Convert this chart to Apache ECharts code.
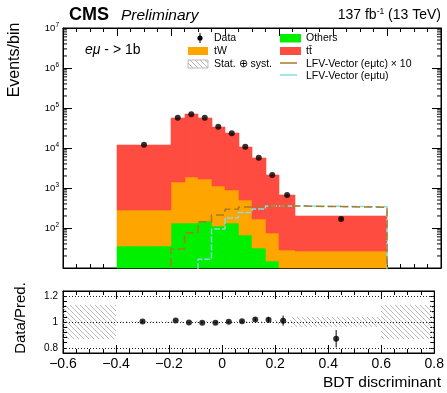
<!DOCTYPE html>
<html>
<head>
<meta charset="utf-8">
<script src="https://cdn.jsdelivr.net/npm/echarts@6.0.0/dist/echarts.min.js"></script>
<style>
  html, body { margin: 0; padding: 0; background: #fff; }
  #chart { width: 447px; height: 393px; }
</style>
</head>
<body>
<div id="chart"></div>
<script>
// histogram binning (BDT discriminant)
const binEdges = [-0.4, -0.2, -0.15, -0.1, -0.05, 0, 0.05, 0.1, 0.15, 0.2, 0.26, 0.6];
// per-bin yields, stacked bottom -> top
const others = [34, 131, 135, 152, 114, 135, 67, 31, 14, 5, 3];
const tW = [250, 1260, 1700, 1530, 980, 730, 430, 137, 61, 23, 22];
const ttbar = [11760, 55200, 67800, 55800, 33200, 22400, 10240, 5440, 2000, 633, 168];
const data = [12100, 57200, 69300, 57200, 34100, 23300, 10800, 5720, 2110, 668, 168];
// signals
const sigEmutc = [0.4, 3.0, 7.6, 14.4, 21.1, 29.3, 33.4, 35.5, 35.5, 35.5, 33.0];
const sigEmutcScale = 10;
const sigEmutu = [1, 2, 5, 16.5, 94, 178, 244, 297, 355, 355, 340];
// relative stat+syst band drawn in the ratio panel
const bandEdges = [-0.6, -0.4, -0.2, -0.15, -0.1, -0.05, 0, 0.05, 0.1, 0.15, 0.2, 0.26, 0.6, 0.8];
const bandHalf = [0.135, 0.004, 0.004, 0.004, 0.004, 0.005, 0.005, 0.006, 0.008, 0.01, 0.015, 0.04, 0.135];
// ratio panel reference lines / labels
const ratioLines = [0.8, 1, 1.2];

const FONT = 'Liberation Sans, Arial, sans-serif';
const colors = {
  others: '#00f000',
  tW: '#ffa500',
  ttbar: '#ff4c40',
  emutc: '#a97a26',
  emutu: '#86dcdc',
};

const centers = binEdges.slice(0, -1).map((e, i) => (e + binEdges[i + 1]) / 2);
const pred = others.map((v, i) => v + tW[i] + ttbar[i]);
const ratio = data.map((d, i) => d / pred[i]);
const ratioErr = data.map((d, i) => Math.sqrt(d) / pred[i]);

// hatch pattern like ROOT's 3354 fill style
const hatchCanvas = (() => {
  const c = document.createElement('canvas');
  c.width = 5; c.height = 5;
  const g = c.getContext('2d');
  g.strokeStyle = '#a8a8a8';
  g.lineWidth = 0.8;
  g.beginPath();
  g.moveTo(0, 0); g.lineTo(5, 5);
  g.moveTo(-1, 4); g.lineTo(1, 6);
  g.moveTo(4, -1); g.lineTo(6, 1);
  g.stroke();
  return c;
})();
const hatchFill = { image: hatchCanvas, repeat: 'repeat' };

// stacked histogram rectangles [lo, hi, bottom, top]
const stackRects = (layers) => {
  const out = layers.map(() => []);
  binEdges.slice(0, -1).forEach((lo, i) => {
    let base = 1;
    layers.forEach((layer, k) => {
      out[k].push([lo, binEdges[i + 1], base, base + layer[i]]);
      base += layer[i];
    });
  });
  return out;
};
const [othersRects, tWRects, ttbarRects] = stackRects([others, tW, ttbar]);

const rectRenderer = (fill, solid) => (params, api) => {
  const p0 = api.coord([api.value(0), api.value(3)]).map(Math.round);
  const p1 = api.coord([api.value(1), api.value(2)]).map(Math.round);
  const cs = params.coordSys;
  const shape = echarts.graphic.clipRectByRect(
    { x: p0[0], y: p0[1], width: p1[0] - p0[0], height: p1[1] - p0[1] },
    { x: cs.x, y: cs.y, width: cs.width, height: cs.height }
  );
  const style = solid
    ? { fill: fill, stroke: fill, lineWidth: 0.6 }
    : { fill: fill, stroke: null, lineWidth: 0 };
  return shape && { type: 'rect', shape: shape, style: style };
};

const errRenderer = (params, api) => {
  const x = api.value(0), y = api.value(1), e = api.value(2);
  const a = api.coord([x, y - e]);
  const b = api.coord([x, y + e]);
  return { type: 'line', shape: { x1: a[0], y1: a[1], x2: b[0], y2: b[1] }, style: { stroke: '#000', lineWidth: 1 } };
};

// histogram outline points for a step line
const stepPoints = (vals, scale) => {
  const pts = [[binEdges[0], 1]];
  vals.forEach((v, i) => {
    pts.push([binEdges[i], v * scale]);
    pts.push([binEdges[i + 1], v * scale]);
  });
  pts.push([binEdges[binEdges.length - 1], 1]);
  return pts;
};

// log minor ticks 2..9 per decade
const minorLog = [];
for (let d = 10; d < 1e7; d *= 10) {
  for (let m = 2; m <= 9; m++) minorLog.push([-0.6, m * d]);
}
const minorTickRenderer = (params, api) => {
  const v = api.value(1);
  const l = api.coord([-0.6, v]);
  const r = api.coord([0.8, v]);
  return {
    type: 'group',
    children: [
      { type: 'line', shape: { x1: l[0], y1: l[1], x2: l[0] + 4, y2: l[1] }, style: { stroke: '#000', lineWidth: 1 } },
      { type: 'line', shape: { x1: r[0] - 4, y1: r[1], x2: r[0], y2: r[1] }, style: { stroke: '#000', lineWidth: 1 } },
    ],
  };
};

const minus = (s) => s.replace('-', '\u2212');

const xAxisBase = (grid, pos, showLabel) => ({
  gridIndex: grid,
  type: 'value',
  position: pos,
  min: -0.6,
  max: 0.8,
  interval: 0.2,
  axisLine: { onZero: false, lineStyle: { color: '#000', width: 1 } },
  axisTick: { inside: true, length: 8, lineStyle: { color: '#000' } },
  minorTick: { show: true, splitNumber: 4, length: 4, lineStyle: { color: '#000' } },
  splitLine: { show: false },
  axisLabel: {
    show: showLabel,
    fontFamily: FONT,
    fontSize: 14,
    color: '#000',
    margin: 4,
    showMinLabel: true,
    showMaxLabel: true,
    hideOverlap: false,
    formatter: (v) => (Math.abs(v) < 1e-9 ? '0' : minus(v.toFixed(1))),
  },
});

const logYAxis = (pos, showLabel) => ({
  gridIndex: 0,
  type: 'log',
  logBase: 10,
  position: pos,
  min: 10,
  max: 1e7,
  splitNumber: 6,
  axisLine: { onZero: false, lineStyle: { color: '#000', width: 1 } },
  axisTick: { inside: true, length: 9, lineStyle: { color: '#000' } },
  splitLine: { show: false },
  axisLabel: {
    show: showLabel,
    margin: 4,
    color: '#000',
    fontFamily: FONT,
    formatter: (v) => {
      const e = Math.round(Math.log10(v));
      return e < 2 ? '' : '{b|10}{s|' + e + '}';
    },
    rich: {
      b: { fontSize: 9.5, fontFamily: FONT, color: '#000' },
      s: { fontSize: 6.5, fontFamily: FONT, color: '#000', padding: [0, 0, 6, 0] },
    },
  },
});

const ratioYAxis = (pos, showLabel) => ({
  gridIndex: 1,
  type: 'value',
  position: pos,
  min: 0.76,
  max: 1.24,
  interval: 0.04,
  axisLine: { onZero: false, lineStyle: { color: '#000', width: 1 } },
  axisTick: { inside: true, length: 4, lineStyle: { color: '#000' } },
  splitLine: { show: false },
  axisLabel: {
    show: showLabel,
    margin: 5,
    color: '#000',
    fontFamily: FONT,
    fontSize: 10,
    formatter: (v) => {
      const r = Math.round(v * 100) / 100;
      return ratioLines.includes(r) ? String(r) : '';
    },
  },
});

const legendText = (x, y, text, extra) => ({
  type: 'text', x: x, y: y,
  style: Object.assign({ text: text, font: '10.5px ' + FONT, fill: '#000', verticalAlign: 'middle' }, extra || {}),
});

const graphics = [
  { type: 'text', x: 69, y: 15, style: { text: 'CMS', font: 'bold 18px ' + FONT, fill: '#000', verticalAlign: 'middle' } },
  { type: 'text', x: 121, y: 15.5, style: { text: 'Preliminary', font: 'italic 15.5px ' + FONT, fill: '#000', verticalAlign: 'middle' } },
  {
    type: 'text', x: 441, y: 15.5,
    style: {
      text: '{n|137 fb}{s|-1}{n| (13 TeV)}', align: 'right', verticalAlign: 'middle',
      rich: {
        n: { fontSize: 14, fontFamily: FONT, fill: '#000' },
        s: { fontSize: 8.5, fontFamily: FONT, fill: '#000', padding: [0, 0, 8, 0] },
      },
    },
  },
  {
    type: 'text', x: 85, y: 50,
    style: {
      text: '{i|e\u03bc}{n| - > 1b}', verticalAlign: 'middle',
      rich: {
        i: { fontSize: 14, fontFamily: FONT, fontStyle: 'italic', fill: '#000' },
        n: { fontSize: 14, fontFamily: FONT, fill: '#000' },
      },
    },
  },
  // legend, column 1
  { type: 'line', shape: { x1: 200, y1: 33, x2: 200, y2: 43 }, style: { stroke: '#000', lineWidth: 1 } },
  { type: 'circle', shape: { cx: 200, cy: 38, r: 2.6 }, style: { fill: '#000' } },
  legendText(214, 38, 'Data'),
  { type: 'rect', shape: { x: 188, y: 47, width: 20, height: 8 }, style: { fill: colors.tW } },
  legendText(214, 51, 'tW'),
  { type: 'rect', shape: { x: 188, y: 60, width: 20, height: 8 }, style: { fill: hatchFill, stroke: '#aaa', lineWidth: 0.8 } },
  legendText(214, 64, 'Stat. \u2295 syst.'),
  // legend, column 2
  { type: 'rect', shape: { x: 280, y: 34, width: 21, height: 8.5 }, style: { fill: colors.others } },
  legendText(306, 38, 'Others'),
  { type: 'rect', shape: { x: 280, y: 47, width: 21, height: 8 }, style: { fill: colors.ttbar } },
  legendText(306, 51, 't\u0074\u0304'),
  { type: 'line', shape: { x1: 280, y1: 63, x2: 297, y2: 63 }, style: { stroke: colors.emutc, lineWidth: 1.5 } },
  legendText(306, 64, 'LFV-Vector (e\u03bctc) \u00d7 10'),
  { type: 'line', shape: { x1: 280, y1: 75, x2: 297, y2: 75 }, style: { stroke: colors.emutu, lineWidth: 1.5 } },
  legendText(306, 76, 'LFV-Vector (e\u03bctu)'),
  // axis titles
  { type: 'text', x: 15, y: 60, rotation: Math.PI / 2, style: { text: 'Events/bin', font: '16px ' + FONT, fill: '#000', align: 'center', verticalAlign: 'middle' } },
  { type: 'text', x: 21, y: 318, rotation: Math.PI / 2, style: { text: 'Data/Pred.', font: '15px ' + FONT, fill: '#000', align: 'center', verticalAlign: 'middle' } },
  { type: 'text', x: 441, y: 383, style: { text: 'BDT discriminant', font: '15.5px ' + FONT, fill: '#000', align: 'right', verticalAlign: 'middle' } },
];

const chart = echarts.init(document.getElementById('chart'), null, { renderer: 'canvas' });

chart.setOption({
  animation: false,
  backgroundColor: '#fff',
  textStyle: { fontFamily: FONT },
  grid: [
    { left: 63, top: 28, width: 378, height: 240, show: true, borderColor: '#000', borderWidth: 1, backgroundColor: 'transparent' },
    { left: 63, top: 291, width: 378, height: 62, show: true, borderColor: '#000', borderWidth: 1, backgroundColor: 'transparent' },
  ],
  xAxis: [
    xAxisBase(0, 'bottom', false),
    xAxisBase(0, 'top', false),
    xAxisBase(1, 'bottom', true),
    xAxisBase(1, 'top', false),
  ],
  yAxis: [
    logYAxis('left', true),
    logYAxis('right', false),
    ratioYAxis('left', true),
    ratioYAxis('right', false),
  ],
  graphic: graphics,
  series: [
    { type: 'custom', name: 'Others', xAxisIndex: 0, yAxisIndex: 0, renderItem: rectRenderer(colors.others, true), data: othersRects, encode: { x: [0, 1], y: [2, 3] }, z: 1, silent: true },
    { type: 'custom', name: 'tW', xAxisIndex: 0, yAxisIndex: 0, renderItem: rectRenderer(colors.tW, true), data: tWRects, encode: { x: [0, 1], y: [2, 3] }, z: 1, silent: true },
    { type: 'custom', name: 'ttbar', xAxisIndex: 0, yAxisIndex: 0, renderItem: rectRenderer(colors.ttbar, true), data: ttbarRects, encode: { x: [0, 1], y: [2, 3] }, z: 1, silent: true },
    {
      type: 'line', name: 'LFV-Vector (e\u03bctu)', xAxisIndex: 0, yAxisIndex: 0, data: stepPoints(sigEmutu, 1),
      symbol: 'none', clip: true, lineStyle: { color: colors.emutu, width: 1.5, type: [6, 2] }, z: 3, silent: true,
    },
    {
      type: 'line', name: 'LFV-Vector (e\u03bctc) x 10', xAxisIndex: 0, yAxisIndex: 0, data: stepPoints(sigEmutc, sigEmutcScale),
      symbol: 'none', clip: true, lineStyle: { color: colors.emutc, width: 1.5, type: [8, 4] }, z: 4, silent: true,
    },
    {
      type: 'custom', xAxisIndex: 0, yAxisIndex: 0, renderItem: errRenderer,
      data: centers.map((c, i) => [c, data[i], Math.sqrt(data[i])]), encode: { x: 0, y: 1 }, z: 5, silent: true,
    },
    {
      type: 'scatter', name: 'Data', xAxisIndex: 0, yAxisIndex: 0, data: centers.map((c, i) => [c, data[i]]),
      symbol: 'circle', symbolSize: 6, itemStyle: { color: '#000' }, z: 6, silent: true,
    },
    { type: 'custom', xAxisIndex: 0, yAxisIndex: 0, renderItem: minorTickRenderer, data: minorLog, encode: { x: 0, y: 1 }, z: 7, silent: true },
    // ratio panel
    {
      type: 'custom', xAxisIndex: 2, yAxisIndex: 2, renderItem: rectRenderer(hatchFill, false),
      data: bandHalf.map((h, i) => [bandEdges[i], bandEdges[i + 1], 1 - h, 1 + h]), encode: { x: [0, 1], y: [2, 3] }, z: 1, silent: true,
    },
    {
      type: 'custom', xAxisIndex: 2, yAxisIndex: 2, renderItem: errRenderer,
      data: centers.map((c, i) => [c, ratio[i], ratioErr[i]]), encode: { x: 0, y: 1 }, z: 5, silent: true,
    },
    {
      type: 'scatter', xAxisIndex: 2, yAxisIndex: 2, data: centers.map((c, i) => [c, ratio[i]]),
      symbol: 'circle', symbolSize: 6, itemStyle: { color: '#000' }, z: 6, silent: true,
      markLine: {
        silent: true, symbol: 'none', label: { show: false },
        lineStyle: { color: '#222', width: 1, type: [1, 2] },
        data: ratioLines.map((v) => ({ yAxis: v })),
      },
    },
  ],
});
</script>
</body>
</html>
